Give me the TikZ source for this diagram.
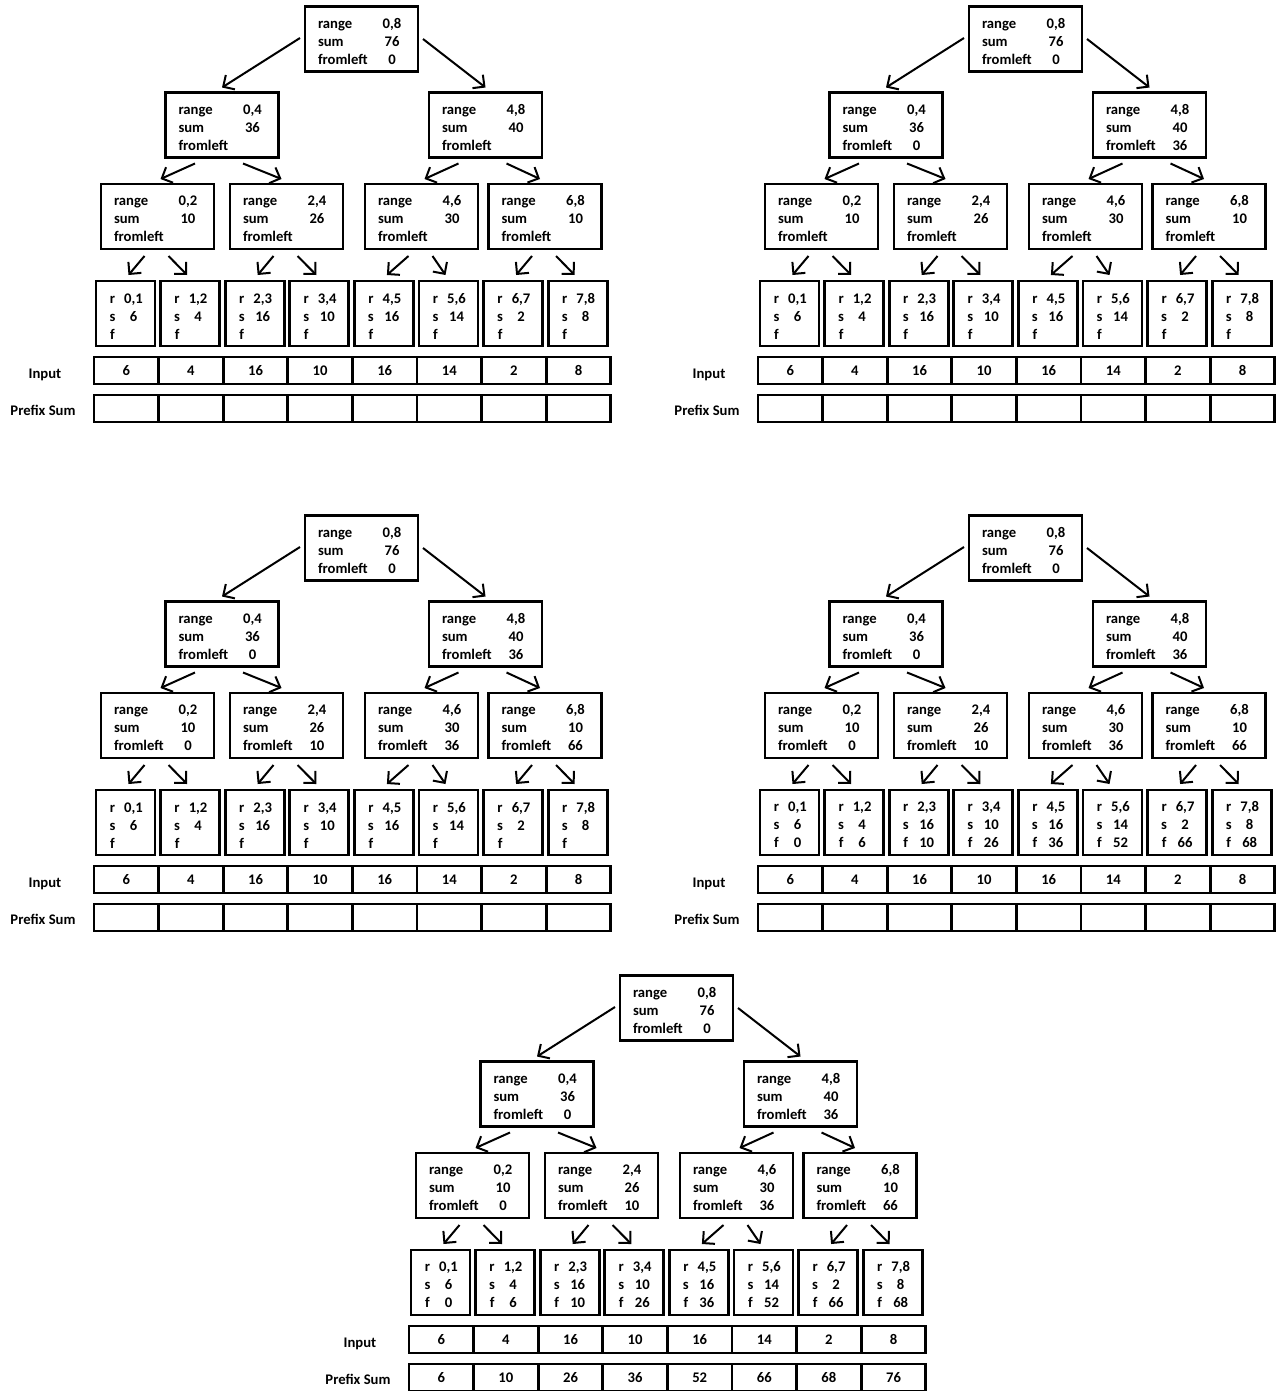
\documentclass[tikz,border=0pt]{standalone}
\usepackage{fontspec}
\setmainfont{Carlito}
\usetikzlibrary{arrows.meta,calc}

\tikzset{
  bigbox/.style={draw, line width=2.7pt, minimum width=113pt, minimum height=65pt,
    inner sep=0pt, outer sep=0pt, align=left},
  leafbox/.style={bigbox, minimum width=59pt},
  cell/.style={draw, line width=2.7pt, minimum width=64.6pt, minimum height=27pt,
    inner sep=0pt, outer sep=0pt},
  rowlabel/.style={inner sep=0pt},
  arr/.style={line width=2pt, -{Straight Barb[length=8.5pt,width=17pt]}}
}

% text of an inner box and of a leaf
\newcommand{\bigtext}[3]{%
  \rule{0pt}{15pt}\makebox[61pt][l]{range}\makebox[26pt]{#1}\\%
  \makebox[61pt][l]{sum}\makebox[26pt]{#2}\\%
  \makebox[61pt][l]{fromleft}\makebox[26pt]{#3}}
\newcommand{\leaftext}[3]{%
  \rule{0pt}{15pt}\makebox[16pt]{r}\makebox[26pt]{#1}\\%
  \makebox[16pt]{s}\makebox[26pt]{#2}\\%
  \makebox[16pt]{f}\makebox[26pt]{#3}}

% one tree: #1 name, #2/#3 offset, #4 root fromleft,
% #5 level 1, #6 level 2, #7 leaves (sum/fromleft), #8 prefix sums
\newcommand{\sumtree}[8]{%
  \node[bigbox] (#1r) at ({#2+361.5},{#3+39}) {\bigtext{0,8}{76}{#4}};
  \foreach \s/\f [count=\i] in {#5} {
    \pgfmathtruncatemacro\lo{4*\i-4}
    \pgfmathtruncatemacro\hi{4*\i}
    \node[bigbox] (#1a\i) at ({#2+222+263.5*(\i-1)},{#3+125}) {\bigtext{\lo,\hi}{\s}{\f}};
  }
  \foreach \s/\f [count=\i] in {#6} {
    \pgfmathtruncatemacro\lo{2*\i-2}
    \pgfmathtruncatemacro\hi{2*\i}
    \pgfmathsetmacro\xx{{157.5,286.5,421.5,545}[\i-1]}
    \node[bigbox] (#1b\i) at ({#2+\xx},{#3+216.5}) {\bigtext{\lo,\hi}{\s}{\f}};
  }
  \foreach \s/\f [count=\i] in {#7} {
    \pgfmathtruncatemacro\lo{\i-1}
    \node[leafbox] (#1c\i) at ({#2+125.5+64.6*(\i-1)},{#3+313.5}) {\leaftext{\lo,\i}{\s}{\f}};
  }
  \foreach \v [count=\i] in {6,4,16,10,16,14,2,8}
    \node[cell] (#1in\i) at ({#2+126.3+64.6*(\i-1)},{#3+370.5}) {\v};
  \foreach \v [count=\i] in {#8}
    \node[cell] (#1ps\i) at ({#2+126.3+64.6*(\i-1)},{#3+408.5}) {\v};
  \node[rowlabel] (#1inl) at ({#2+45},{#3+375}) {Input};
  \node[rowlabel] (#1psl) at ({#2+43},{#3+410}) {Prefix Sum};
  % arrows
  \draw[arr] ($(#1r.west)+(-5,-1)$) -- ($(#1a1.north)+(0,-5)$);
  \draw[arr] ($(#1r.east)+(5,0)$) -- ($(#1a2.north)+(0,-5)$);
  \foreach \p in {1,2} {
    \pgfmathtruncatemacro\kidl{2*\p-1}
    \pgfmathtruncatemacro\kidr{2*\p}
    \draw[arr] ($(#1a\p.south)+(-27,6)$) -- ($(#1b\kidl.north)+(3,-5)$);
    \draw[arr] ($(#1a\p.south)+(21,6)$) -- ($(#1b\kidr.north)+(-5,-5)$);
  }
  \foreach \p in {1,...,4} {
    \pgfmathtruncatemacro\kidl{2*\p-1}
    \pgfmathtruncatemacro\kidr{2*\p}
    \draw[arr] ($(#1b\p.south)+(-13,7)$) -- ($(#1c\kidl.north)+(3,-6)$);
    \draw[arr] ($(#1b\p.south)+(11,7)$) -- ($(#1c\kidr.north)+(-3,-6)$);
  }
}

\begin{document}
\begin{tikzpicture}[x=1pt, y=-1pt, font=\fontsize{14.67pt}{18pt}\selectfont\bfseries]
\useasboundingbox (0,0) rectangle (1278,1391);

\sumtree{p}{0}{0}{0}{36/{},40/{}}{10/{},26/{},30/{},10/{}}
  {6/{},4/{},16/{},10/{},16/{},14/{},2/{},8/{}}{{},{},{},{},{},{},{},{}}

\sumtree{q}{664}{0}{0}{36/0,40/36}{10/{},26/{},30/{},10/{}}
  {6/{},4/{},16/{},10/{},16/{},14/{},2/{},8/{}}{{},{},{},{},{},{},{},{}}

\sumtree{s}{0}{509}{0}{36/0,40/36}{10/0,26/10,30/36,10/66}
  {6/{},4/{},16/{},10/{},16/{},14/{},2/{},8/{}}{{},{},{},{},{},{},{},{}}

\sumtree{t}{664}{509}{0}{36/0,40/36}{10/0,26/10,30/36,10/66}
  {6/0,4/6,16/10,10/26,16/36,14/52,2/66,8/68}{{},{},{},{},{},{},{},{}}

\sumtree{u}{315}{969}{0}{36/0,40/36}{10/0,26/10,30/36,10/66}
  {6/0,4/6,16/10,10/26,16/36,14/52,2/66,8/68}{6,10,26,36,52,66,68,76}
\end{tikzpicture}
\end{document}
